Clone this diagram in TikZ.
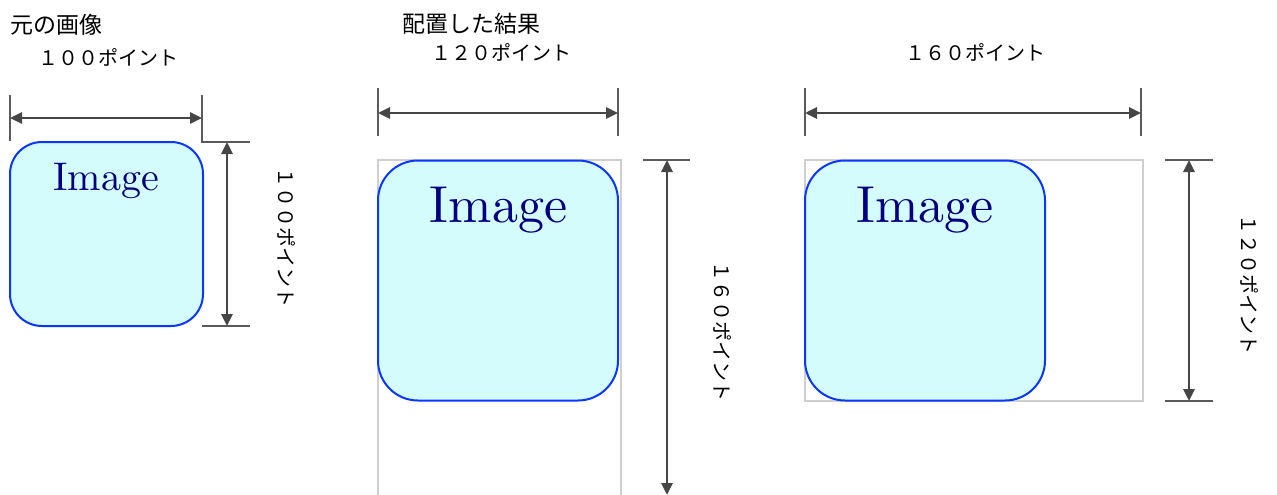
\documentclass[tikz,border=0pt]{standalone}
\usepackage{fontspec}
\newfontfamily\jp{Noto Sans CJK JP}
\newfontfamily\imgfont{lmroman10-regular.otf}
\usetikzlibrary{arrows.meta}
\definecolor{dimgray}{HTML}{464646}
\definecolor{tickgray}{HTML}{5A5A5A}
\definecolor{boxfill}{HTML}{D4FCFD}
\definecolor{boxline}{HTML}{0A36FF}
\definecolor{framegray}{HTML}{CFCFCF}
\definecolor{imgtext}{HTML}{000080}
\tikzset{
  dimarrow/.style={draw=dimgray, line width=2.8pt, {Triangle[length=12pt,width=11pt]}-{Triangle[length=12pt,width=11pt]}},
  tickline/.style={draw=tickgray, line width=1.3pt},
  imgbox/.style={draw=boxline, fill=boxfill, line width=2pt, inner sep=0pt},
  frame/.style={draw=framegray, line width=1.4pt},
  imglabel/.style={text=imgtext, anchor=base, inner sep=0pt},
  title/.style={font=\jp\fontsize{23}{23}\selectfont, anchor=west, inner sep=0pt},
  dimlabel/.style={font=\jp\fontsize{20}{20}\selectfont, inner sep=0pt},
}
\begin{document}
\begin{tikzpicture}[x=1pt,y=-1pt]
\useasboundingbox (0,0) rectangle (1277,495);
% ---------- left group ----------
\node[title] (t1) at (10,25) {元の画像};
\node[dimlabel] (h1) at (108,57) {１００ポイント};
\node[imgbox, minimum width=193pt, minimum height=184pt, rounded corners=32pt] (b1) at (106.5,234) {};
\node[imglabel, font=\imgfont\fontsize{40}{40}\selectfont] (i1) at (106,190) {Image};
\coordinate (a1t) at (10,95);   \coordinate (a1b) at (10,141);
\coordinate (a2t) at (202,95);  \coordinate (a2b) at (202,142);
\coordinate (e1r) at (250,142);
\coordinate (e2l) at (202,326); \coordinate (e2r) at (250,326);
\draw[tickline] (a1t) -- (a1b);
\draw[tickline] (a2t) -- (a2b) -- (e1r);
\draw[tickline] (e2l) -- (e2r);
\coordinate (h1l) at (10,118); \coordinate (h1r) at (202,118);
\draw[dimarrow] (h1l) -- (h1r);
\coordinate (v1t) at (227,142); \coordinate (v1b) at (227,326);
\draw[dimarrow] (v1t) -- (v1b);
\node[dimlabel, rotate=-90] (vl1) at (287,237) {１００ポイント};
% ---------- middle group ----------
\node[title] (t2) at (402,24) {配置した結果};
\node[dimlabel] (h2) at (501,52) {１２０ポイント};
\coordinate (f2a) at (378,495); \coordinate (f2b) at (378,160);
\coordinate (f2c) at (621,160); \coordinate (f2d) at (621,495);
\draw[frame] (f2a) -- (f2b) -- (f2c) -- (f2d);
\node[imgbox, minimum width=240pt, minimum height=240pt, rounded corners=40pt] (b2) at (498,280.5) {};
\node[imglabel, font=\imgfont\fontsize{52}{52}\selectfont] (i2) at (498.5,222) {Image};
\coordinate (m1t) at (378,88);  \coordinate (m1b) at (378,136);
\coordinate (m2t) at (618,88);  \coordinate (m2b) at (618,136);
\draw[tickline] (m1t) -- (m1b);
\draw[tickline] (m2t) -- (m2b);
\coordinate (h2l) at (378,113); \coordinate (h2r) at (618,113);
\draw[dimarrow] (h2l) -- (h2r);
\coordinate (me1) at (643,160); \coordinate (me2) at (690,160);
\draw[tickline] (me1) -- (me2);
\coordinate (v2t) at (667,160); \coordinate (v2b) at (667,495);
\draw[dimarrow] (v2t) -- (v2b);
\node[dimlabel, rotate=-90] (vl2) at (723,331) {１６０ポイント};
% ---------- right group ----------
\node[dimlabel] (h3) at (975,52) {１６０ポイント};
\coordinate (f3a) at (805,160); \coordinate (f3b) at (1143,401);
\draw[frame] (f3a) rectangle (f3b);
\node[imgbox, minimum width=240pt, minimum height=240pt, rounded corners=40pt] (b3) at (925,280.5) {};
\node[imglabel, font=\imgfont\fontsize{52}{52}\selectfont] (i3) at (925,222) {Image};
\coordinate (r1t) at (805,88);   \coordinate (r1b) at (805,136);
\coordinate (r2t) at (1141,88);  \coordinate (r2b) at (1141,136);
\draw[tickline] (r1t) -- (r1b);
\draw[tickline] (r2t) -- (r2b);
\coordinate (h3l) at (805,113); \coordinate (h3r) at (1141,113);
\draw[dimarrow] (h3l) -- (h3r);
\coordinate (re1) at (1165,160); \coordinate (re2) at (1213,160);
\coordinate (re3) at (1165,401); \coordinate (re4) at (1213,401);
\draw[tickline] (re1) -- (re2);
\draw[tickline] (re3) -- (re4);
\coordinate (v3t) at (1189,160); \coordinate (v3b) at (1189,401);
\draw[dimarrow] (v3t) -- (v3b);
\node[dimlabel, rotate=-90] (vl3) at (1250,284) {１２０ポイント};
\end{tikzpicture}
\end{document}
